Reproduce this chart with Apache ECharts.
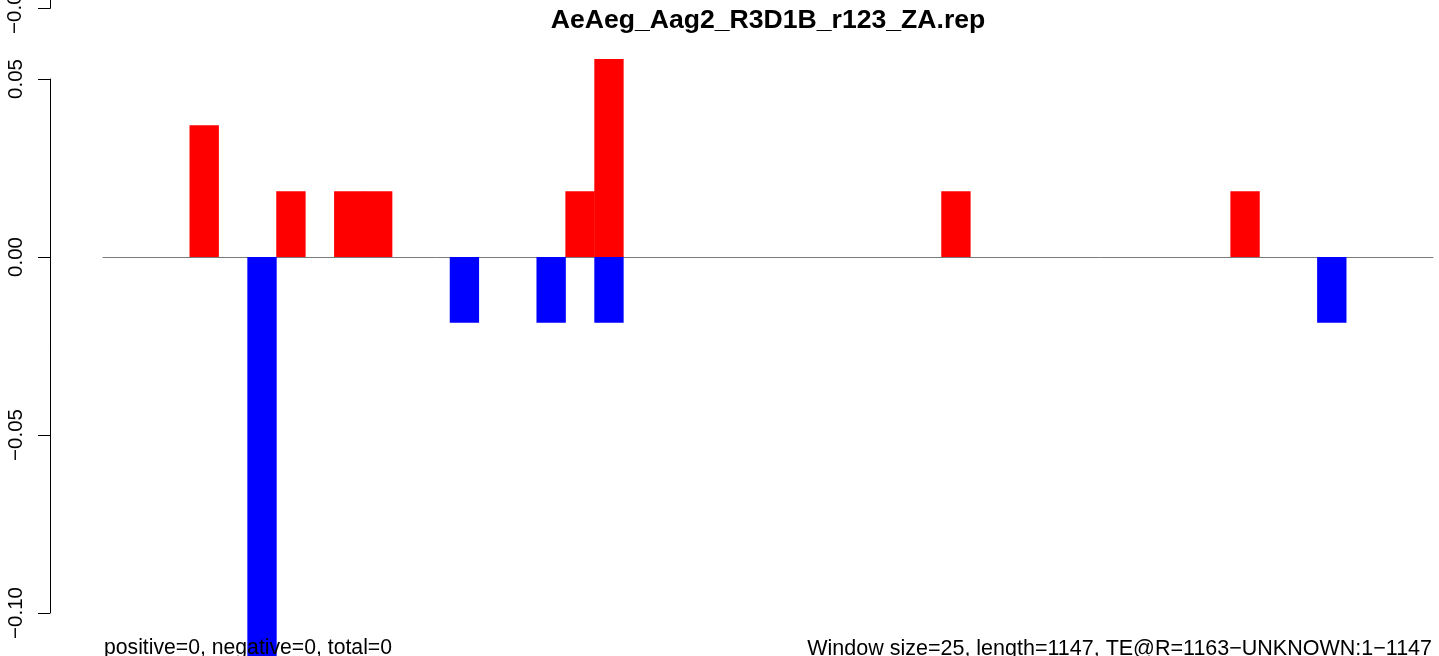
<!DOCTYPE html>
<html>
<head>
<meta charset="utf-8">
<title>AeAeg_Aag2_R3D1B_r123_ZA.rep</title>
<script src="https://cdn.jsdelivr.net/npm/echarts@6/dist/echarts.min.js"></script>
<style>
  html, body { margin: 0; padding: 0; background: #fff; }
  #chart { width: 1439px; height: 656px; }
</style>
</head>
<body>
<div id="chart"></div>
<script>
// window index 1..46 (window size 25, length 1147)
var windows = [];
for (var i = 1; i <= 46; i++) windows.push(String(i));

// positive strand values (red) and negative strand values (blue)
var positive = [0, 0, 0, 0.0370, 0, 0, 0.0185, 0, 0.0185, 0.0185,
                0, 0, 0, 0, 0, 0, 0.0185, 0.0556, 0, 0,
                0, 0, 0, 0, 0, 0, 0, 0, 0, 0.0185,
                0, 0, 0, 0, 0, 0, 0, 0, 0, 0.0185,
                0, 0, 0, 0, 0, 0];
var negative = [0, 0, 0, 0, 0, -0.1296, 0, 0, 0, 0,
                0, 0, -0.0185, 0, 0, -0.0185, 0, -0.0185, 0, 0,
                0, 0, 0, 0, 0, 0, 0, 0, 0, 0,
                0, 0, 0, 0, 0, 0, 0, 0, 0, 0,
                0, 0, -0.0185, 0, 0, 0];

var titleText = 'AeAeg_Aag2_R3D1B_r123_ZA.rep';
var leftNote = 'positive=0, negative=0, total=0';
var rightNote = 'Window size=25, length=1147, TE@R=1163\u2212UNKNOWN:1\u22121147';

var font = 'Liberation Sans, Helvetica, Arial, sans-serif';

function fmt(v) {
  return (v < 0 ? '\u2212' : '') + Math.abs(v).toFixed(2);
}
// empty windows draw nothing
function skipZero(arr) {
  return arr.map(function (v) { return v === 0 ? '-' : v; });
}

var chart = echarts.init(document.getElementById('chart'));
var option = {
  animation: false,
  backgroundColor: '#ffffff',
  title: [
    {
      text: titleText,
      left: 768, top: 7, padding: 0, textAlign: 'center',
      textStyle: { fontFamily: font, fontSize: 26.6, fontWeight: 'bold', color: '#000' }
    },
    {
      text: leftNote,
      left: 104, top: 638, padding: 0,
      textStyle: { fontFamily: font, fontSize: 21.2, fontWeight: 'normal', color: '#000' }
    },
    {
      text: rightNote,
      right: 7, top: 638, padding: 0,
      textStyle: { fontFamily: font, fontSize: 21.5, fontWeight: 'normal', color: '#000' }
    }
  ],
  grid: { left: 103, right: 6, top: 79, bottom: 43 },
  xAxis: {
    type: 'category',
    data: windows,
    axisLine: { onZero: true, lineStyle: { color: '#7a7a7a', width: 1 } },
    axisTick: { show: false },
    axisLabel: { show: false },
    splitLine: { show: false }
  },
  yAxis: {
    type: 'value',
    min: -0.10, max: 0.05, interval: 0.05,
    offset: 53,
    axisLine: { show: true, lineStyle: { color: '#000', width: 1 } },
    axisTick: { show: true, length: 12, lineStyle: { color: '#000', width: 1 } },
    axisLabel: {
      rotate: 90, margin: 23, fontFamily: font, fontSize: 20.5, color: '#000',
      formatter: fmt
    },
    splitLine: { show: false }
  },
  // fragment of the panel above (cut off at the top edge)
  graphic: [
    { type: 'line', shape: { x1: 50.5, y1: 0, x2: 50.5, y2: 8.5 }, style: { stroke: '#000', lineWidth: 1 } },
    { type: 'line', shape: { x1: 38, y1: 8.5, x2: 50.5, y2: 8.5 }, style: { stroke: '#000', lineWidth: 1 } },
    { type: 'text', x: 15, y: 8, rotation: Math.PI / 2,
      style: { text: fmt(-0.05), fontFamily: font, fontSize: 20.5, fill: '#000', align: 'center', verticalAlign: 'middle' } }
  ],
  series: [
    {
      name: 'positive', type: 'bar', data: skipZero(positive),
      barWidth: '101.5%', barGap: '-100%', clip: false,
      itemStyle: { color: '#ff0000' }
    },
    {
      name: 'negative', type: 'bar', data: skipZero(negative),
      barWidth: '101.5%', barGap: '-100%', clip: false,
      itemStyle: { color: '#0000ff' }
    }
  ]
};
chart.setOption(option);
</script>
</body>
</html>
